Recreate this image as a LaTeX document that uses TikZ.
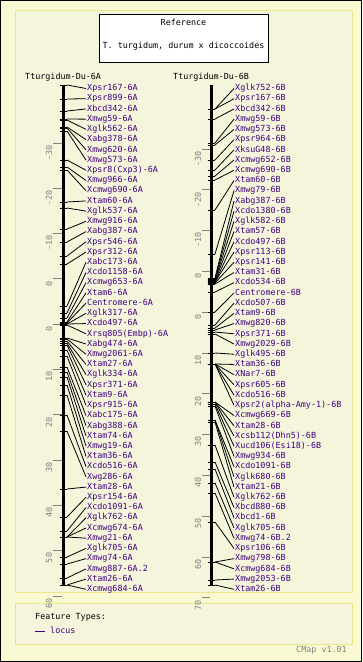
\documentclass[tikz,border=0pt]{standalone}
\usepackage{fontspec}
\newfontfamily\mapfont{DejaVu Sans Mono}
\usetikzlibrary{positioning}

\definecolor{pagebg}{HTML}{FAFAD2}
\definecolor{slotbg}{HTML}{F5F5DC}
\definecolor{slotline}{HTML}{F0E68C}
\definecolor{locuscol}{HTML}{400080}
\definecolor{scalegray}{HTML}{808080}

\tikzset{
  locuslabel/.style={anchor=west,inner xsep=1pt,inner ysep=0pt,text height=6pt,text depth=1.5pt,text=locuscol},
  scalelabel/.style={rotate=90,anchor=east,inner sep=0pt,text=scalegray},
  maptitle/.style={anchor=west,inner sep=0pt},
  scaletick/.style={scalegray,line width=1pt},
  connector/.style={black,line width=0.8pt},
  locustick/.style={black,line width=1pt},
}

\begin{document}
\begin{tikzpicture}[x=1pt,y=-1pt,font=\mapfont\fontsize{8.4}{10}\selectfont]
\useasboundingbox (0,0) rectangle (362,662);
\fill[pagebg] (0,0) rectangle (362,662);
\draw[black,line width=1pt] (0.5,0.5) rectangle (361.5,661.5);
\filldraw[fill=slotbg,draw=slotline] (15,10) rectangle (352,592);
\filldraw[fill=slotbg,draw=slotline] (15,603) rectangle (352,644);

% reference box
\node[draw,fill=white,minimum width=169pt,minimum height=48pt,inner sep=0pt] (refbox) at (183.5,38) {};
\node (reftitle) at (183.5,22) {Reference};
\node (refname) at (183.5,46) {T. turgidum, durum x dicoccoides};

\node[maptitle] (titleA) at (25,77) {Tturgidum-Du-6A};
\node[maptitle] (titleB) at (173,77) {Tturgidum-Du-6B};

% scales
\foreach \v [count=\k from 0] in {-30,-20,-10,0,0,10,20,30,40,50,60}{
  \draw[scaletick] (53,{143+45.3*\k}) -- (62,{143+45.3*\k});
  \node[scalelabel] (sa\k) at (49,{145+45.3*\k}) {\v};
}
\foreach \v [count=\k from 0] in {-30,-20,-10,0,0,10,20,30,40,50,60,70}{
  \draw[scaletick] (202,{149+40.8*\k}) -- (210,{149+40.8*\k});
  \node[scalelabel] (sb\k) at (198,{151+40.8*\k}) {\v};
}

% map 6A
\draw[line width=3pt] (63.3,85) -- (63.3,585);
\foreach \lab/\pos [count=\i from 0] in {Xpsr167-6A/85, Xpsr899-6A/99, Xbcd342-6A/111, Xmwg59-6A/119, Xglk562-6A/120, Xabg378-6A/127, Xmwg620-6A/128, Xmwg573-6A/131, Xpsr8(Cxp3)-6A/160, Xmwg966-6A/167, Xcmwg690-6A/170, Xtam60-6A/202, Xglk537-6A/208, Xmwg916-6A/229, Xabg387-6A/242, Xpsr546-6A/256, Xpsr312-6A/264, Xabc173-6A/306, Xcdo1158-6A/313, Xcmwg653-6A/318, Xtam6-6A/322, Centromere-6A/323, Xglk317-6A/324, Xcdo497-6A/324, Xrsq805(Embp)-6A/325, Xabg474-6A/338, Xmwg2061-6A/339, Xtam27-6A/341, Xglk334-6A/343, Xpsr371-6A/345, Xtam9-6A/350, Xpsr915-6A/356, Xabc175-6A/367, Xabg388-6A/372, Xtam74-6A/377, Xmwg19-6A/385, Xtam36-6A/395, Xcdo516-6A/415, Xwg286-6A/431, Xtam28-6A/489, Xpsr154-6A/517, Xcdo1091-6A/531, Xglk762-6A/537, Xcmwg674-6A/537, Xmwg21-6A/537, Xglk705-6A/557, Xmwg74-6A/564, Xmwg887-6A.2/578, Xtam26-6A/585, Xcmwg684-6A/585}{
  \coordinate (ta\i) at (67,\pos);
  \draw[locustick] (59.5,\pos) -- (ta\i);
  \node[locuslabel] (la\i) at (86,{88.5+10.22*\i}) {\lab};
  \draw[connector] (ta\i) -- (la\i.west);
}

% map 6B
\draw[line width=3pt] (211.3,85) -- (211.3,585);
\foreach \lab/\pos [count=\i from 0] in {Xglk752-6B/109, Xpsr167-6B/109, Xbcd342-6B/119, Xmwg59-6B/143, Xmwg573-6B/145, Xpsr964-6B/160, XksuG48-6B/170, Xcmwg652-6B/176, Xcmwg690-6B/180, Xtam60-6B/210, Xmwg79-6B/254, Xabg387-6B/278, Xcdo1380-6B/279, Xglk582-6B/280, Xtam57-6B/281, Xcdo497-6B/282, Xpsr113-6B/282, Xpsr141-6B/283, Xtam31-6B/284, Xcdo534-6B/292, Centromere-6B/312, Xcdo507-6B/325, Xtam9-6B/328, Xmwg820-6B/330, Xpsr371-6B/332, Xmwg2029-6B/334, Xglk495-6B/353, Xtam36-6B/364, XNar7-6B/364, Xpsr605-6B/364, Xcdo516-6B/364, Xpsr2(alpha-Amy-1)-6B/364, Xcmwg669-6B/402, Xtam28-6B/402, Xcsb112(Dhn5)-6B/402, Xucd106(Esi18)-6B/404, Xmwg934-6B/406, Xcdo1091-6B/420, Xglk680-6B/420, Xtam21-6B/422, Xglk762-6B/445, Xbcd880-6B/462, Xbcd1-6B/469, Xglk705-6B/483, Xmwg74-6B.2/493, Xpsr106-6B/522, Xmwg798-6B/562, Xcmwg684-6B/562, Xmwg2053-6B/580, Xtam26-6B/585}{
  \coordinate (tb\i) at (215,\pos);
  \draw[locustick] (207.6,\pos) -- (tb\i);
  \node[locuslabel] (lb\i) at (234,{88.5+10.22*\i}) {\lab};
  \draw[connector] (tb\i) -- (lb\i.west);
}

% legend
\node[anchor=west,inner sep=0pt] (ftypes) at (35,617) {Feature Types:};
\coordinate (legstart) at (35,631);
\coordinate (legend) at (45,631);
\draw[locuscol,line width=1pt] (legstart) -- (legend);
\node[locuslabel] (leglocus) at (49,631) {locus};
\node[anchor=east,inner sep=0pt,text=scalegray] (version) at (347,650) {CMap v1.01};
\end{tikzpicture}
\end{document}
